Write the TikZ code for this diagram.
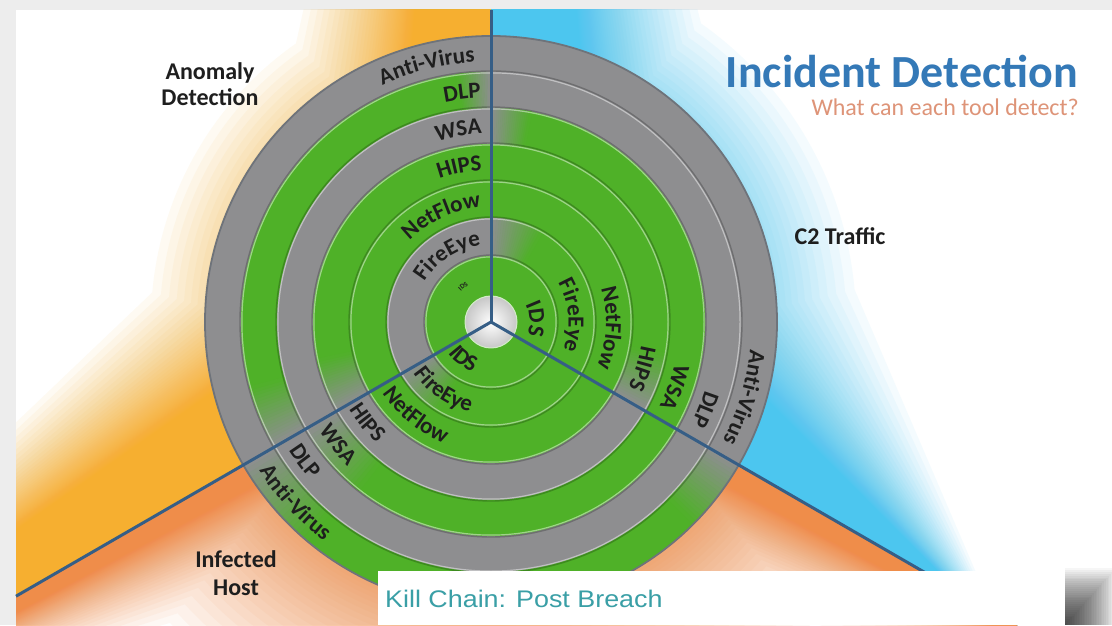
\documentclass[tikz,border=0pt]{standalone}
\usepackage{fontspec}
\setmainfont{Carlito}
\newfontfamily\killfont[FakeStretch=1.12]{Liberation Sans}
\usetikzlibrary{decorations.text}
\definecolor{ringgray}{HTML}{8E8E90}
\definecolor{ringgreen}{HTML}{4FB128}
\definecolor{ulglow}{HTML}{F6AF2E}
\definecolor{urglow}{HTML}{4CC6EF}
\definecolor{bglow}{HTML}{EF8D4A}
\definecolor{spoke}{HTML}{365E86}
\definecolor{titleblue}{HTML}{3479B7}
\definecolor{subsalmon}{HTML}{DE9478}
\definecolor{killteal}{HTML}{3A9FA6}
\definecolor{labeldark}{HTML}{1E1E1E}
\definecolor{framegray}{HTML}{EDEDED}
\definecolor{rimcol}{HTML}{6E737A}
\newcommand\ringfont{\fontsize{23}{23}\selectfont\bfseries}
\newcommand\annseg[5]{\fill[#5] (#3:#2) arc[start angle=#3, end angle=#4, radius=#2] -- (#4:#1) arc[start angle=#4, end angle=#3, radius=#1] -- cycle;}
\newcommand\blendseg[5]{%
  \foreach \j in {0,...,19}{%
    \pgfmathsetmacro\blA{#3+(#4)*\j*#5/20}%
    \pgfmathsetmacro\blB{#3+(#4)*(\j+1)*#5/20}%
    \pgfmathtruncatemacro\blP{(\j+0.5)*5}%
    \annseg{#1}{#2}{\blA}{\blB}{ringgreen!\blP!ringgray, draw=ringgreen!\blP!ringgray, line width=0.7pt}%
  }}
% soft glow of one sector:
% #1 colour, #2 start angle, #3 end angle (ccw), #4 d0, #5 d1, #6 R0, #7 R1,
% #8 far offset factor along the start line, #9 far offset factor along the end line
\newcommand\glow[9]{%
  \begin{scope}
  \clip (0,0) -- (#2:1500) -- ({(#2+#3)/2}:1500) -- (#3:1500) -- cycle;
  \foreach \i in {0,...,49}{%
    \pgfmathsetmacro\gs{0.945^\i}%
    \pgfmathsetmacro\gd{#4+(#5-#4)*\gs}%
    \pgfmathsetmacro\gR{#6+(#7-#6)*\gs}%
    \pgfmathsetmacro\gb{asin(\gd/\gR)}%
    \pgfmathsetmacro\gqa{#2+\gb}%
    \pgfmathsetmacro\gqb{#3-\gb}%
    \pgfmathsetmacro\pax{720*cos(#2)+(#8)*\gd*cos(#2+90)}%
    \pgfmathsetmacro\pay{720*sin(#2)+(#8)*\gd*sin(#2+90)}%
    \pgfmathsetmacro\pbx{720*cos(#3)+(#9)*\gd*cos(#3-90)}%
    \pgfmathsetmacro\pby{720*sin(#3)+(#9)*\gd*sin(#3-90)}%
    \fill[#1, opacity=0.06] (0,0) -- (#2:720) -- (\pax,\pay) -- (\gqa:\gR) arc[start angle=\gqa, end angle=\gqb, radius=\gR] -- (\pbx,\pby) -- (#3:720) -- cycle;
  }
  \end{scope}}
\newcommand\labUL[3]{%
  \pgfmathsetmacro\lbR{#1-7.5}%
  \pgfmathsetmacro\lbE{90+#2/\lbR*57.2958}%
  \path[decorate, decoration={text along path, text={|\ringfont\color{labeldark}|#3}, text align=right}] (185:\lbR) arc[start angle=185, end angle=\lbE, radius=\lbR];}
\newcommand\labUR[3]{%
  \pgfmathsetmacro\lbR{#1-7.5}%
  \pgfmathsetmacro\lbE{-30+#2/\lbR*57.2958}%
  \path[decorate, decoration={text along path, text={|\ringfont\color{labeldark}|#3}, text align=right}] (75:\lbR) arc[start angle=75, end angle=\lbE, radius=\lbR];}
\newcommand\labB[3]{%
  \pgfmathsetmacro\lbR{#1+7.5}%
  \pgfmathsetmacro\lbS{210+#2/\lbR*57.2958}%
  \path[decorate, decoration={text along path, text={|\ringfont\color{labeldark}|#3}, text align=left}] (\lbS:\lbR) arc[start angle=\lbS, end angle=325, radius=\lbR];}
\tikzset{
  spokeline/.style={draw=spoke, line width=3pt},
  sectorlabel/.style={font=\fontsize{24}{24}\selectfont\bfseries, text=labeldark, anchor=base, inner sep=0pt}
}
\begin{document}
\begin{tikzpicture}[x=1pt,y=1pt,line join=round]
\useasboundingbox (0,0) rectangle (1112,625);
\fill[framegray] (0,0) rectangle (1112,625);
\fill[white] (16,0) rectangle (1112,615);
\coordinate (C) at (491,303);
\coordinate (topend) at (491,615);
\coordinate (llend) at (16,28.8);
\coordinate (lrend) at (976,23);
% background glows
\begin{scope}
  \clip (16,0) rectangle (1112,615);
  \begin{scope}[shift={(491,303)}]
    \glow{ulglow}{90}{210}{80}{195}{180}{340}{0.5}{0.45}
    \glow{urglow}{-30}{90}{90}{210}{190}{365}{-0.5}{0.5}
    \glow{bglow}{210}{330}{20}{100}{220}{440}{0.3}{0.3}
  \end{scope}
\end{scope}
% rings
\begin{scope}[shift={(491,303)}]
  \fill[ringgray] (0,0) circle[radius=286];
  \annseg{250}{286}{210}{330}{ringgreen}
  \annseg{214}{250}{90}{210}{ringgreen}
  \annseg{178}{214}{210}{450}{ringgreen}
  \annseg{141}{178}{-30}{210}{ringgreen}
  \fill[ringgreen, even odd rule] (0,0) circle[radius=141] (0,0) circle[radius=104];
  \annseg{66}{104}{210}{450}{ringgreen}
  \fill[ringgreen] (0,0) circle[radius=66];
  \blendseg{250}{286}{210}{1}{20}
  \blendseg{250}{286}{330}{-1}{15}
  \blendseg{214}{250}{90}{1}{8}
  \blendseg{214}{250}{210}{-1}{15}
  \blendseg{178}{214}{90}{-1}{11}
  \blendseg{178}{214}{210}{1}{22}
  \blendseg{141}{178}{210}{-1}{18}
  \blendseg{141}{178}{-30}{1}{20}
  \blendseg{66}{104}{90}{-1}{30}
  \blendseg{66}{104}{210}{1}{30}
  \foreach \r in {66,104,141,178,214,250}{
    \draw[black, opacity=0.22, line width=1.4pt] (0,0) circle[radius=\r+1];
    \draw[white, opacity=0.45, line width=1.2pt] (0,0) circle[radius=\r-0.9];
  }
  \draw[rimcol, line width=1.8pt] (0,0) circle[radius=286];
  \shade[inner color=white, outer color=black!22] (0,0) circle[radius=26];
  \draw[white!75!ringgreen, line width=1pt] (0,0) circle[radius=26];
\end{scope}
% spokes
\draw[spokeline] (C) -- (topend);
\draw[spokeline] (C) -- (llend);
\draw[spokeline] (C) -- (lrend);
% ring labels
\begin{scope}[shift={(491,303)}]
  \labUL{268}{16}{Anti-Virus}
  \labUL{232}{10}{DLP}
  \labUL{196}{9}{WSA}
  \labUL{159.5}{9}{HIPS}
  \labUL{122.5}{10}{NetFlow}
  \labUL{85}{10}{FireEye}
  \path[decorate, decoration={text along path, text={|\fontsize{7}{7}\selectfont\bfseries\color{labeldark}|IDS}, text align=center}] (150:43) arc[start angle=150, end angle=106, radius=43];
  \labUR{268}{13}{Anti-Virus}
  \labUR{232}{12}{DLP}
  \labUR{196}{11}{WSA}
  \labUR{159.5}{12}{HIPS}
  \labUR{122.5}{14}{NetFlow}
  \labUR{85}{12}{FireEye}
  \labUR{46}{7}{IDS}
  \labB{46}{6}{IDS}
  \labB{85}{6}{FireEye}
  \labB{122.5}{8}{NetFlow}
  \labB{159.5}{5}{HIPS}
  \labB{196}{8}{WSA}
  \labB{232}{10}{DLP}
  \labB{268}{13}{Anti-Virus}
\end{scope}
% titles and sector labels
\node[anchor=base east, inner sep=0pt, text=titleblue, font=\fontsize{46}{46}\selectfont\bfseries] (title) at (1078,537) {Incident Detection};
\node[anchor=base east, inner sep=0pt, text=subsalmon, font=\fontsize{24}{24}\selectfont] (subtitle) at (1079,509) {What can each tool detect?};
\node[sectorlabel] (anomA) at (210,545) {Anomaly};
\node[sectorlabel] (anomB) at (210,519) {Detection};
\node[sectorlabel] (c2) at (840,380) {C2 Traffic};
\node[sectorlabel] (infA) at (236,58) {Infected};
\node[sectorlabel] (infB) at (236,30) {Host};
% box shadow and box
\fill[white] (1065,0) rectangle (1112,54);
\foreach \i in {1,...,30}{
  \fill[black, opacity=0.035] (1065,0) rectangle ({1065+\i*1.7},{\i*1.9});
}
\node[fill=white, anchor=south west, minimum width=687pt, minimum height=54pt, inner sep=0pt] (killbox) at (378,0) {};
\node[anchor=base west, inner sep=0pt, text=killteal, font=\killfont\fontsize{24}{24}\selectfont] (killtext) at (385,18) {Kill Chain: Post Breach};
\end{tikzpicture}
\end{document}
